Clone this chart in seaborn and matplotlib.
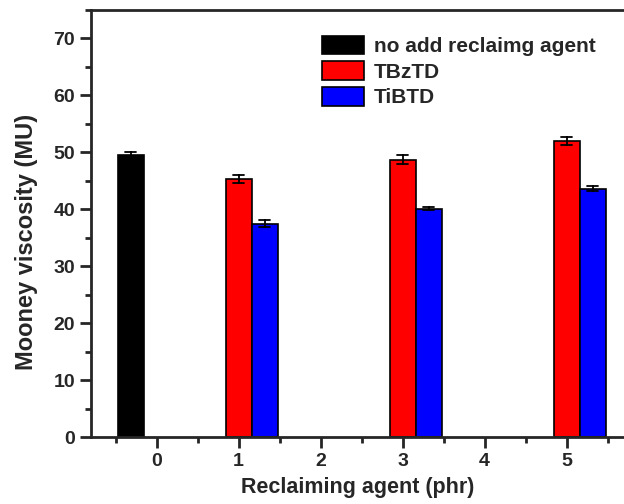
import numpy as np
import pandas as pd
import seaborn as sns
import matplotlib.pyplot as plt
from matplotlib.ticker import MultipleLocator

# values
groups = ["no add reclaimg agent", "TBzTD", "TiBTD"]
colors = ["#000000", "#ff0000", "#0000ff"]

ctrl_dose = [0]
ctrl_mv = [49.5]
ctrl_err = [0.5]

doses = [1, 3, 5]
tbztd_mv = [45.3, 48.7, 52.0]
tbztd_err = [0.7, 0.8, 0.7]
tibtd_mv = [37.5, 40.1, 43.6]
tibtd_err = [0.7, 0.3, 0.4]

# long table: two points (mean -/+ err) per bar, so seaborn's
# percentile interval draws the error bar
rows = []
for name, xs, ys, es in [(groups[0], ctrl_dose, ctrl_mv, ctrl_err),
                         (groups[1], doses, tbztd_mv, tbztd_err),
                         (groups[2], doses, tibtd_mv, tibtd_err)]:
    for x, y, e in zip(xs, ys, es):
        rows.append({"dose": x, "mv": y - e, "type": name})
        rows.append({"dose": x, "mv": y + e, "type": name})
df = pd.DataFrame(rows)

sns.set_style("ticks")
plt.rcParams['font.family'] = ['Liberation Sans', 'DejaVu Sans']
plt.rcParams['font.weight'] = 'bold'

fig = plt.figure(figsize=(6.24, 5.04), dpi=100)
ax = fig.add_axes([91 / 624, 67 / 504, 533 / 624, 427 / 504])

sns.barplot(data=df, x="dose", y="mv", hue="type", hue_order=groups,
            palette=colors, native_scale=True, width=0.95, gap=0,
            errorbar=("pi", 100), capsize=0.38,
            err_kws={"color": "black", "linewidth": 1.3},
            edgecolor="black", linewidth=1.2, saturation=1, ax=ax)

ax.set_xlim(-0.80, 5.70)
ax.set_ylim(0, 75)
ax.set_xticks([0, 1, 2, 3, 4, 5])
ax.set_xticks(np.arange(-0.5, 6, 1), minor=True)
ax.yaxis.set_minor_locator(MultipleLocator(5))
ax.set_yticks(np.arange(0, 71, 10))
ax.tick_params(which="major", direction="out", length=8, width=2, labelsize=14)
ax.tick_params(which="minor", direction="out", length=4, width=2)
for lab in ax.get_xticklabels() + ax.get_yticklabels():
    lab.set_fontweight("bold")
for s in ["left", "bottom", "top"]:
    ax.spines[s].set_linewidth(2)
ax.spines["right"].set_visible(False)

ax.set_xlabel("Reclaiming agent (phr)", fontsize=15.5, fontweight="bold", labelpad=5)
ax.set_ylabel("Mooney viscosity (MU)", fontsize=17, fontweight="bold")
ax.yaxis.set_label_coords(-0.100, 0.457)

handles, labels = ax.get_legend_handles_labels()
ax.legend(handles, labels, loc="upper left", bbox_to_anchor=(0.433, 0.94),
          frameon=False, handlelength=2.05, handleheight=1.0,
          labelspacing=0.25, handletextpad=0.45, borderpad=0,
          borderaxespad=0, prop={"weight": "bold", "size": 15})

fig.savefig("out.png", dpi=100)
